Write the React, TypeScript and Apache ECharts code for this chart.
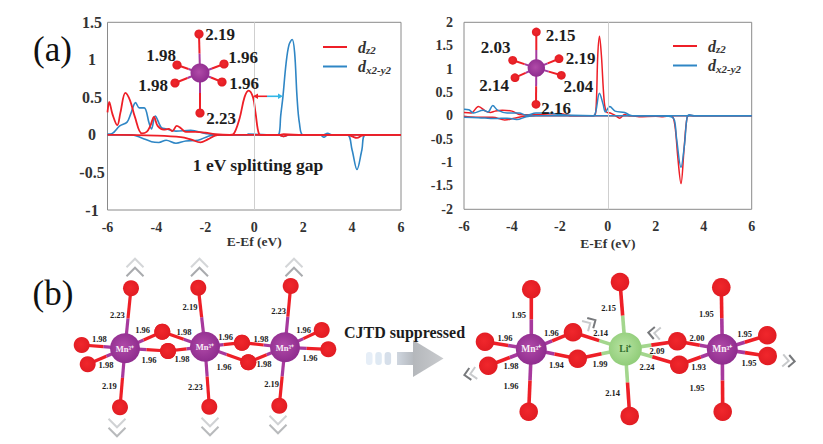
import React, { useEffect, useRef } from "react";
import * as echarts from "echarts";

// ---- Data ----
const seriesNames = ["dz2", "dx2-y2"];
const xTicks = [-6, -4, -2, 0, 2, 4, 6];
const axisTitle = "E-Ef (eV)";

const aRedUp = [[-6,0.3],[-5.93,0.44],[-5.8,0.28],[-5.6,0.13],[-5.47,0.3],[-5.27,0.56],[-5.08,0.46],[-4.88,0.24],[-4.6,0.02],[-4.4,0.04],[-4.25,0.12],[-4.1,0.24],[-3.95,0.12],[-3.7,0.07],[-3.5,0.08],[-3.35,0.05],[-3.17,0.12],[-3,0.09],[-2.8,0.04],[-2.4,0.04],[-2,0.03],[-1.6,0.01],[-1,0],[-0.85,0.01],[-0.6,0.22],[-0.4,0.5],[-0.23,0.59],[-0.05,0.5],[0.05,0.3],[0.2,0.01],[0.35,0],[1,0],[1.2,0.01],[2,0],[3,0],[6,0]];
const aBlueUp = [[-6,0.01],[-5.8,0.02],[-5.5,0.12],[-5.2,0.17],[-5.05,0.28],[-4.85,0.43],[-4.7,0.36],[-4.5,0.36],[-4.3,0.16],[-4.2,0.08],[-4.05,0.25],[-3.8,0.1],[-3.6,0.08],[-3.2,0.05],[-2.6,0.06],[-2,0.02],[-1.5,0],[-0.3,0],[-0.25,0.01],[0.9,0],[1.02,0.02],[1.08,0.25],[1.17,0.5],[1.3,0.95],[1.42,1.2],[1.55,1.27],[1.65,1.1],[1.75,0.5],[1.85,0.15],[2,0],[2.8,0],[3,0.02],[3.2,0],[6,0]];
const aBlueDown = [[-6,0],[-5,0],[-4.6,-0.04],[-4.2,-0.09],[-3.9,-0.1],[-3.6,-0.07],[-3.2,-0.11],[-2.8,-0.08],[-2.3,-0.07],[-1.9,-0.02],[-1.6,0],[1,0],[1.2,-0.02],[1.4,0],[2.7,0],[2.85,-0.03],[3,0],[3.8,0],[4,-0.2],[4.2,-0.46],[4.4,-0.2],[4.55,0],[6,0]];
const aRedDown = [[-6,0],[-5.5,0],[-4,-0.01],[-3,-0.03],[-2.6,-0.06],[-2.2,-0.1],[-1.9,-0.06],[-1.6,-0.01],[-1.4,0],[1,0],[1.2,-0.02],[1.4,0],[3.8,0],[4,-0.02],[4.2,-0.04],[4.4,-0.01],[4.6,0],[6,0]];

const bRedUp = [[-6,0.07],[-5.7,0.06],[-5.4,0.2],[-5.1,0.1],[-4.9,0.07],[-4.7,0.1],[-4.4,0.12],[-4,0.1],[-3.7,0.03],[-3.2,0.02],[-2.8,0.03],[-2,0.05],[-1.8,0.03],[-1.5,0],[-0.6,0],[-0.5,0.1],[-0.42,1.3],[-0.35,1.7],[-0.27,1.3],[-0.15,0.3],[-0.05,0.08],[0.1,0.06],[0.3,0.01],[0.5,-0.05],[0.7,0.03],[0.9,0],[6,0]];
const bBlueUp = [[-6,0.14],[-5.8,0.13],[-5.6,0.06],[-5.2,0.12],[-5,0.08],[-4.8,0.22],[-4.6,0.12],[-4.2,0.06],[-3.7,0.06],[-3.4,0.01],[-3,0.06],[-2.6,0.06],[-2,0.03],[-1.5,0.01],[-0.6,0],[-0.5,0.1],[-0.35,0.48],[-0.2,0.25],[-0.1,0.08],[0.08,0.2],[0.3,0.1],[0.7,0.07],[0.9,0.02],[1.1,0],[6,0]];
const bRedDown = [[-6,-0.01],[-5.5,-0.03],[-4.8,-0.03],[-4.3,-0.09],[-3.9,-0.05],[-3.5,-0.01],[-3,0],[1,0],[1.3,-0.02],[2,-0.01],[2.3,-0.02],[2.6,0],[2.72,-0.03],[2.82,-0.3],[2.92,-0.9],[3.05,-1.45],[3.18,-0.7],[3.3,-0.05],[3.4,0.01],[3.6,0],[6,0]];
const bBlueDown = [[-6,-0.03],[-5.4,-0.04],[-4.7,-0.06],[-4.2,-0.05],[-3.8,-0.08],[-3.4,-0.02],[-3,0],[2,0],[2.5,-0.01],[2.65,-0.02],[2.78,-0.1],[2.87,-0.5],[3.05,-1.1],[3.2,-0.6],[3.3,-0.05],[3.4,0.02],[3.6,0],[6,0]];

const panelLabels = ["(a)", "(b)"];
const gapLabel = "1 eV splitting gap";
const arrowLabel = "CJTD suppressed";

const insetALabels = ["2.19", "1.98", "1.96", "1.98", "1.96", "2.23"];
const insetBLabels = ["2.15", "2.03", "2.19", "2.14", "2.04", "2.16"];
const chainLeftLabels = ["2.23","1.96","1.98","2.19","1.96","1.98","2.23","1.96","1.98","1.98","1.96","1.98","1.96","1.98","1.96","2.19","2.23","2.19"];
const chainRightLabels = ["1.95","1.96","1.96","1.98","1.94","1.96","2.15","2.14","1.99","2.14","2.09","2.24","2.00","1.93","1.95","1.95","1.95","1.95"];
const atomMn = "Mn";
const atomLi = "Li";

// ---- Drawing layout (pixels of the illustrations) ----
const serif = '"Liberation Serif", "Times New Roman", serif';
const RED = "#ee1f27";
const BLUE = "#2f86c5";
const PURPLE = "#a7399d";
const GREEN = "#a3d68d";
const AXIS_TEXT = "#333333";

const txt = (text: string, x: number, y: number, size: number, extra: any = {}) => ({
  type: "text", x, y, silent: true, z: 20,
  style: { text, fontFamily: serif, fontWeight: "bold", fontSize: size, fill: "#1d1d1d", align: "center", verticalAlign: "middle", ...extra },
});
const bond = (x1: number, y1: number, x2: number, y2: number, c1: string, c2: string, w: number, f = 0.5) => {
  const mx = x1 + (x2 - x1) * f, my = y1 + (y2 - y1) * f;
  return [
    { type: "line", silent: true, z: 10, shape: { x1, y1, x2: mx, y2: my }, style: { stroke: c1, lineWidth: w } },
    { type: "line", silent: true, z: 10, shape: { x1: mx, y1: my, x2, y2 }, style: { stroke: c2, lineWidth: w } },
  ];
};
const ball = (cx: number, cy: number, r: number, inner: string, outer: string) => ({
  type: "circle", silent: true, z: 12, shape: { cx, cy, r },
  style: { fill: new echarts.graphic.RadialGradient(0.45, 0.45, 0.6, [{ offset: 0, color: inner }, { offset: 1, color: outer }]) },
});
const oxygen = (x: number, y: number, r: number) => ball(x, y, r, "#f0272c", "#e01b22");
const mn = (x: number, y: number, r: number) => ball(x, y, r, "#b04aa8", "#8c2a8c");
const li = (x: number, y: number, r: number) => ball(x, y, r, "#b7e3a2", "#8ecb76");

const molecule = (cx: number, cy: number, r: number, oxy: number[][], or: number, w: number, makeCentre: any, c1: string) => [
  ...oxy.flatMap(([x, y]) => bond(cx, cy, x, y, c1, RED, w)),
  ...oxy.map(([x, y]) => oxygen(x, y, or)),
  makeCentre(cx, cy, r),
];

// deg: direction the chevron points, clockwise from "up"
const chevron = (cx: number, cy: number, deg: number, color: string, size: number) => ({
  type: "polyline", silent: true, z: 8, x: cx, y: cy, rotation: -(deg * Math.PI) / 180,
  shape: { points: [[-size, size * 0.55], [0, -size * 0.45], [size, size * 0.55]] },
  style: { stroke: color, lineWidth: 2, fill: "none" },
});
const doubleChevron = (cx: number, cy: number, deg: number, lead: string, trail: string, size = 8.5, gap = 4.5) => {
  const t = (deg * Math.PI) / 180;
  const dx = Math.sin(t) * gap, dy = -Math.cos(t) * gap;
  return [chevron(cx - dx, cy - dy, deg, trail, size), chevron(cx + dx, cy + dy, deg, lead, size)];
};

const insetAOxy = [[199,34],[177,65],[224,64],[175,83],[222,82],[200,113]];
const insetBOxy = [[536.3,32],[512.7,60.3],[559,58.7],[515,77.7],[561.3,75.3],[536,104.3]];
const insetAPos = [[220,34],[161,55],[243,57],[153,85],[244,83],[221,118]];
const insetBPos = [[560.7,35.7],[495.7,47.7],[580.7,58.7],[494,85.7],[578.3,86.7],[556,108.3]];

const chainLeftPos = [[352,195],[428,240],[552,245],[570,172],[677,262],[783,266],[836,183],[911,241],[298,266],[318,346],[447,331],[546,326],[672,351],[792,341],[930,323],[328,408],[586,411],[815,402]].map(([x, y]) => [x / 3, 250 + y / 3]);
const chainRightPos = [[326,194],[285,263],[424,250],[303,349],[439,344],[303,408],[596,173],[572,249],[570,341],[608,428],[741,304],[711,351],[861,263],[866,351],[889,193],[1004,253],[1017,340],[861,414]].map(([x, y]) => [410 + x / 3, 250 + y / 3]);

const illustration = (): any[] => {
  const els: any[] = [];
  els.push(txt(panelLabels[0], 52.5, 49, 35, { fontWeight: "normal", fill: "#111" }));
  els.push(txt(panelLabels[1], 53, 293, 35, { fontWeight: "normal", fill: "#111" }));

  // insets
  els.push(...molecule(200, 73, 9.5, insetAOxy, 4.6, 2, mn, PURPLE));
  els.push(...molecule(536.3, 68, 8.7, insetBOxy, 4.4, 2, mn, PURPLE));
  insetALabels.forEach((s, i) => els.push(txt(s, insetAPos[i][0], insetAPos[i][1], 17)));
  insetBLabels.forEach((s, i) => els.push(txt(s, insetBPos[i][0], insetBPos[i][1], 17)));

  // gap arrows
  els.push(txt(gapLabel, 258, 165, 17.5));
  els.push({ type: "line", silent: true, z: 15, shape: { x1: 256, y1: 96.3, x2: 267, y2: 96.3 }, style: { stroke: RED, lineWidth: 1.6 } });
  els.push({ type: "polygon", silent: true, z: 15, shape: { points: [[253,96.3],[258,93.5],[258,99.1]] }, style: { fill: RED } });
  els.push({ type: "line", silent: true, z: 15, shape: { x1: 267, y1: 96.3, x2: 280, y2: 96.3 }, style: { stroke: "#33b6e6", lineWidth: 1.6 } });
  els.push({ type: "polygon", silent: true, z: 15, shape: { points: [[283,96.3],[278,93.5],[278,99.1]] }, style: { fill: "#33b6e6" } });

  // left chain
  const chainMn = [[125,348.3],[205,346.7],[285,347.3]];
  const chainOxy = [
    [[131,288.3],[120,407.3],[81.7,345],[87.7,364.3],[162.3,331.7],[168,351]],
    [[198.3,287.7],[209.3,406.7],[162.3,331.7],[168,351],[242,342.7],[248.3,362.3]],
    [[290.7,286],[279.3,405.7],[242,342.7],[248.3,362.3],[321.7,330],[328.3,349.3]],
  ];
  chainMn.forEach(([x, y], i) => {
    chainOxy[i].forEach(([ox, oy]) => els.push(...bond(x, y, ox, oy, PURPLE, RED, 3.2)));
  });
  chainOxy.flat().forEach(([x, y]) => els.push(oxygen(x, y, 8)));
  chainMn.forEach(([x, y]) => {
    els.push(mn(x, y, 15));
    els.push(txt(atomMn + "³⁺", x, y + 0.5, 8.5, { fill: "#f8eef7" }));
  });
  chainLeftLabels.forEach((s, i) => els.push(txt(s, chainLeftPos[i][0], chainLeftPos[i][1], 8.5)));
  [[135,267],[199.5,267],[294,267]].forEach(([x, y]) => els.push(...doubleChevron(x, y, 0, "#d4d6d8", "#a9abae")));
  [[117,428],[210,427],[278,425]].forEach(([x, y]) => els.push(...doubleChevron(x, y, 180, "#b8babc", "#d0d2d4")));

  // arrow
  els.push(txt(arrowLabel, 404.5, 332, 16, { fill: "#1c1c1c" }));
  ["#e6eef7", "#dfe9f3", "#d6dfea"].forEach((c, i) =>
    els.push({ type: "rect", silent: true, z: 8, shape: { x: 366 + i * 9.3, y: 352, width: 6.5, height: 13, r: 3 }, style: { fill: c } }));
  els.push({ type: "rect", silent: true, z: 8, shape: { x: 397, y: 352, width: 17, height: 13 }, style: { fill: new echarts.graphic.LinearGradient(0, 0, 1, 0, [{ offset: 0, color: "#cfd6df" }, { offset: 1, color: "#b4b8bd" }]) } });
  els.push({ type: "polygon", silent: true, z: 8, shape: { points: [[413,340],[443.5,358.5],[413,377]] }, style: { fill: new echarts.graphic.LinearGradient(0, 0, 1, 0, [{ offset: 0, color: "#b4b7bb" }, { offset: 1, color: "#c9cbce" }]) } });

  // right chain
  const rMnA = [531.3,349.3], rLi = [625.3,349], rMnB = [722.3,349.3];
  const oA = [[531.3,289.3],[528.7,411.7],[485,341.7],[488.3,365.7]];
  const oShareL = [[573,332.3],[577.7,358.7]];
  const oLi = [[620,282],[629.7,416]];
  const oShareR = [[677.3,341.3],[679.3,364.7]];
  const oB = [[721.3,287.3],[722.7,411.7],[767.3,335.3],[767.7,356]];
  [...oA, ...oShareL].forEach(([x, y]) => els.push(...bond(rMnA[0], rMnA[1], x, y, PURPLE, RED, 3.6)));
  [...oB, ...oShareR].forEach(([x, y]) => els.push(...bond(rMnB[0], rMnB[1], x, y, PURPLE, RED, 3.6)));
  [...oLi, ...oShareL, ...oShareR].forEach(([x, y]) => els.push(...bond(rLi[0], rLi[1], x, y, GREEN, RED, 3.6)));
  [...oA, ...oShareL, ...oLi, ...oShareR, ...oB].forEach(([x, y]) => els.push(oxygen(x, y, 9.3)));
  els.push(mn(rMnA[0], rMnA[1], 15.5));
  els.push(li(rLi[0], rLi[1], 16.5));
  els.push(mn(rMnB[0], rMnB[1], 15.5));
  els.push(txt(atomMn + "³⁺", rMnA[0], rMnA[1], 9.5, { fill: "#f8eef7" }));
  els.push(txt(atomLi + "⁺", rLi[0], rLi[1], 9.5, { fill: "#2f6d2a" }));
  els.push(txt(atomMn + "³⁺", rMnB[0], rMnB[1], 9.5, { fill: "#f8eef7" }));
  chainRightLabels.forEach((s, i) => els.push(txt(s, chainRightPos[i][0], chainRightPos[i][1], 8.5)));
  els.push(...doubleChevron(590.5, 323, 60, "#77797c", "#c8cacc", 6, 3));
  els.push(...doubleChevron(654, 333, -85, "#77797c", "#c8cacc", 6, 3));
  els.push(...doubleChevron(470, 374, -100, "#77797c", "#c8cacc", 6, 3));
  els.push(...doubleChevron(789, 361, 95, "#77797c", "#c8cacc", 6, 3));
  return els;
};

const lineSeries = (name: string, data: number[][], color: string, idx: number, width: number, extra: any = {}) => ({
  type: "line", name, data, xAxisIndex: idx, yAxisIndex: idx, showSymbol: false, symbol: "none", smooth: 0.35,
  lineStyle: { color, width }, itemStyle: { color }, silent: true, clip: true, ...extra,
});
const zeroLine = { silent: true, symbol: "none", label: { show: false }, lineStyle: { color: "#cfcfcf", width: 1, type: "solid" }, data: [{ xAxis: 0 }] };

const xAxisOf = (gridIndex: number, nameGap: number) => ({
  type: "value", gridIndex, min: -6, max: 6, interval: 2,
  name: axisTitle, nameLocation: "middle", nameGap,
  nameTextStyle: { fontFamily: serif, fontWeight: "bold", fontSize: 13.5, color: AXIS_TEXT },
  axisLine: { show: false }, axisTick: { show: false }, splitLine: { show: false },
  axisLabel: { fontFamily: serif, fontWeight: "bold", fontSize: 14, color: AXIS_TEXT, margin: 10, formatter: (v: number) => (xTicks.includes(v) ? String(v) : "") },
});
const legendOf = (left: number, top: number) => ({
  left, top, orient: "vertical", itemWidth: 24, itemHeight: 2, itemGap: 3, selectedMode: false, padding: 0,
  data: seriesNames.map((name) => ({ name, icon: "rect" })),
  formatter: (n: string) => (n === seriesNames[0] ? "{d|d}{s|z2}" : "{d|d}{s|x2-y2}"),
  textStyle: { rich: {
    d: { fontFamily: serif, fontStyle: "italic", fontWeight: "bold", fontSize: 16, color: "#333", padding: [0, 0, 0, 6] },
    s: { fontFamily: serif, fontStyle: "italic", fontWeight: "bold", fontSize: 11, color: "#333", verticalAlign: "bottom", padding: [6, 0, 0, 0] },
  } },
});

export default function App() {
  const ref = useRef<HTMLDivElement>(null);
  useEffect(() => {
    document.body.style.margin = "0";
    const chart = echarts.init(ref.current!, undefined, { renderer: "svg" });
    chart.setOption({
      animation: false,
      backgroundColor: "#ffffff",
      grid: [
        { left: 107.5, top: 22.3, width: 293.5, height: 187.7, show: true, borderColor: "#8a8a8a", borderWidth: 1, backgroundColor: "transparent" },
        { left: 464, top: 22.3, width: 287.7, height: 187, show: true, borderColor: "#8a8a8a", borderWidth: 1, backgroundColor: "transparent" },
      ],
      xAxis: [xAxisOf(0, 21), xAxisOf(1, 27)],
      yAxis: [
        { type: "value", gridIndex: 0, min: -1, max: 1.5, interval: 0.5, axisLine: { show: false }, axisTick: { show: false }, splitLine: { show: false },
          axisLabel: { fontFamily: serif, fontWeight: "bold", fontSize: 16, color: AXIS_TEXT, align: "center", margin: 15.5 } },
        { type: "value", gridIndex: 1, min: -2, max: 2, interval: 0.5, axisLine: { show: false }, axisTick: { show: false }, splitLine: { show: false },
          axisLabel: { fontFamily: serif, fontWeight: "bold", fontSize: 14, color: AXIS_TEXT, margin: 11 } },
      ],
      legend: [legendOf(323, 39), legendOf(673, 38)],
      series: [
        lineSeries(seriesNames[1], aBlueUp, BLUE, 0, 1.6, { markLine: zeroLine }),
        lineSeries(seriesNames[1], aBlueDown, BLUE, 0, 1.6),
        lineSeries(seriesNames[0], aRedUp, RED, 0, 1.8),
        lineSeries(seriesNames[0], aRedDown, RED, 0, 1.8),
        lineSeries(seriesNames[0], bRedUp, RED, 1, 1.5, { markLine: zeroLine }),
        lineSeries(seriesNames[0], bRedDown, RED, 1, 1.5),
        lineSeries(seriesNames[1], bBlueUp, BLUE, 1, 1.5),
        lineSeries(seriesNames[1], bBlueDown, BLUE, 1, 1.5),
      ],
      graphic: { elements: illustration() },
    });
    return () => chart.dispose();
  }, []);
  return <div ref={ref} style={{ width: 823, height: 444 }} />;
}
